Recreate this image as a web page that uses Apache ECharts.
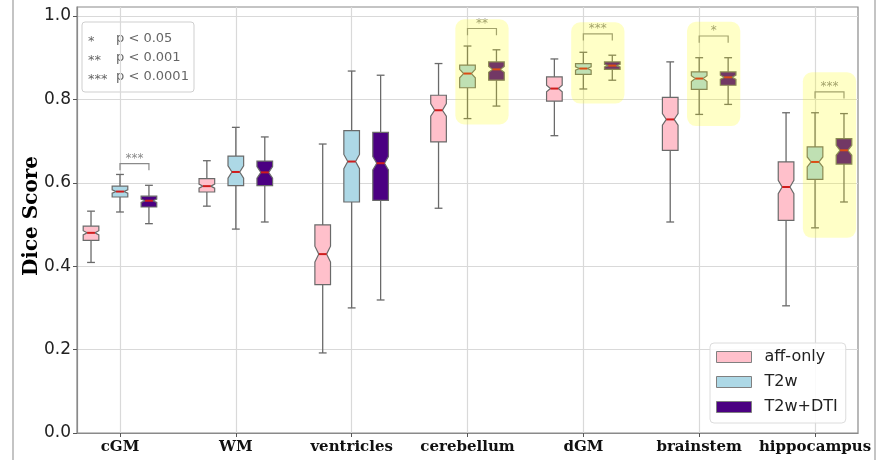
<!DOCTYPE html>
<html><head><meta charset="utf-8">
<script src="https://cdn.jsdelivr.net/npm/echarts@6/dist/echarts.min.js"></script>
<style>html,body{margin:0;padding:0;background:#fff}#c{width:877px;height:460px}</style>
</head><body><div id="c"></div>
<script>
// ---------------- data ----------------
const categories = ['cGM', 'WM', 'ventricles', 'cerebellum', 'dGM', 'brainstem', 'hippocampus'];
const seriesNames = ['aff-only', 'T2w', 'T2w+DTI'];
// each row: [lower whisker, Q1, median, Q3, upper whisker]
const affOnlyStats = [
  [0.409, 0.462, 0.480, 0.496, 0.532],
  [0.544, 0.578, 0.592, 0.610, 0.653],
  [0.192, 0.356, 0.429, 0.499, 0.693],
  [0.539, 0.698, 0.774, 0.810, 0.886],
  [0.713, 0.796, 0.826, 0.854, 0.897],
  [0.506, 0.678, 0.752, 0.805, 0.890],
  [0.305, 0.510, 0.590, 0.650, 0.768]
];
const affOnlyNotch = [[0.475, 0.485], [0.587, 0.597], [0.410, 0.448], [0.760, 0.790], [0.818, 0.834], [0.738, 0.766], [0.574, 0.606]];
const t2wStats = [
  [0.530, 0.566, 0.579, 0.592, 0.620],
  [0.489, 0.593, 0.626, 0.664, 0.733],
  [0.300, 0.554, 0.651, 0.725, 0.868],
  [0.754, 0.828, 0.862, 0.882, 0.928],
  [0.825, 0.860, 0.874, 0.886, 0.913],
  [0.764, 0.824, 0.850, 0.866, 0.900],
  [0.492, 0.608, 0.650, 0.686, 0.768]
];
const t2wNotch = [[0.575, 0.583], [0.611, 0.641], [0.634, 0.668], [0.852, 0.872], [0.870, 0.878], [0.843, 0.857], [0.638, 0.662]];
const t2wDtiStats = [
  [0.502, 0.542, 0.557, 0.568, 0.594],
  [0.506, 0.593, 0.625, 0.652, 0.710],
  [0.319, 0.558, 0.647, 0.721, 0.858],
  [0.784, 0.846, 0.872, 0.890, 0.919],
  [0.846, 0.872, 0.881, 0.890, 0.906],
  [0.788, 0.834, 0.853, 0.866, 0.900],
  [0.554, 0.645, 0.678, 0.706, 0.766]
];
const t2wDtiNotch = [[0.553, 0.561], [0.611, 0.639], [0.631, 0.663], [0.865, 0.879], [0.878, 0.884], [0.848, 0.858], [0.666, 0.690]];
const yTicks = [0.0, 0.2, 0.4, 0.6, 0.8, 1.0];
// significance brackets (T2w vs T2w+DTI)
const sigCategories = [0, 3, 4, 5, 6];
const sigLevels = [0.646, 0.970, 0.957, 0.952, 0.818];
const sigLabels = ['***', '**', '***', '*', '***'];
// highlighted regions (value range)
const highlightCategories = [3, 4, 5, 6];
const highlightLow = [0.740, 0.790, 0.736, 0.468];
const highlightHigh = [0.992, 0.985, 0.986, 0.865];
const pLegendStars = ['*', '**', '***'];
const pLegendTexts = ['p < 0.05', 'p < 0.001', 'p < 0.0001'];

// ---------------- style ----------------
const COLORS = ['#ffc0cb', '#add8e6', '#4b0082'];
const OFFSETS = [-0.25, 0, 0.25];
const BOX_WIDTH = 0.135;
const EDGE = '#6a6a6a';
const MEDIAN = '#d01c1c';
const HL_PAD = 0.105;
const BRACKET_DROP = 0.016;

function buildData(stats, notch) {
  return stats.map((s, i) => [i, s[0], s[1], s[2], s[3], s[4], notch[i][0], notch[i][1]]);
}

function boxRenderer(offset, fill) {
  return function (params, api) {
    const xv = api.value(0) + offset;
    const P = v => api.coord([xv, v]);
    const cx = P(api.value(3))[0];
    const hw = api.size([BOX_WIDTH, 0])[0] / 2;
    const y = k => P(api.value(k))[1];
    const yLow = y(1), yQ1 = y(2), yMed = y(3), yQ3 = y(4), yHigh = y(5), yCiLo = y(6), yCiHi = y(7);
    const nw = hw * 0.5, cw = hw * 0.5;
    const edge = { stroke: EDGE, lineWidth: 1.3 };
    const pts = [
      [cx - hw, yQ1], [cx + hw, yQ1], [cx + hw, yCiLo], [cx + nw, yMed], [cx + hw, yCiHi],
      [cx + hw, yQ3], [cx - hw, yQ3], [cx - hw, yCiHi], [cx - nw, yMed], [cx - hw, yCiLo]
    ];
    return {
      type: 'group', children: [
        { type: 'line', shape: { x1: cx, y1: yQ1, x2: cx, y2: yLow }, style: edge },
        { type: 'line', shape: { x1: cx, y1: yQ3, x2: cx, y2: yHigh }, style: edge },
        { type: 'line', shape: { x1: cx - cw, y1: yLow, x2: cx + cw, y2: yLow }, style: edge },
        { type: 'line', shape: { x1: cx - cw, y1: yHigh, x2: cx + cw, y2: yHigh }, style: edge },
        { type: 'polygon', shape: { points: pts }, style: { fill: fill, stroke: EDGE, lineWidth: 1.2 } },
        { type: 'line', shape: { x1: cx - nw, y1: yMed, x2: cx + nw, y2: yMed }, style: { stroke: MEDIAN, lineWidth: 2 } }
      ]
    };
  };
}

const allStats = [affOnlyStats, t2wStats, t2wDtiStats];
const allNotch = [affOnlyNotch, t2wNotch, t2wDtiNotch];
const BOX_DIMS = ['pos', 'low', 'q1', 'med', 'q3', 'high', 'ciLo', 'ciHi'];

const boxSeries = seriesNames.map((name, k) => ({
  name: name,
  type: 'custom',
  z: 2,
  silent: true,
  itemStyle: { color: COLORS[k] },
  dimensions: BOX_DIMS,
  encode: { x: 0, y: [1, 2, 3, 4, 5, 6, 7] },
  data: buildData(allStats[k], allNotch[k]),
  renderItem: boxRenderer(OFFSETS[k], COLORS[k])
}));

const bracketSeries = {
  name: 'sig',
  type: 'custom',
  z: 3,
  silent: true,
  dimensions: ['pos', 'level'],
  encode: { x: 0, y: 1 },
  data: sigCategories.map((c, i) => [c, sigLevels[i]]),
  renderItem: function (params, api) {
    const i = api.value(0), lvl = api.value(1);
    const a = api.coord([i + OFFSETS[1], lvl]);
    const b = api.coord([i + OFFSETS[2], lvl]);
    const drop = Math.abs(api.size([0, BRACKET_DROP])[1]);
    return {
      type: 'group', children: [
        { type: 'polyline', shape: { points: [[a[0], a[1] + drop], [a[0], a[1]], [b[0], b[1]], [b[0], b[1] + drop]] },
          style: { stroke: '#8a8a8a', lineWidth: 1.2, fill: null } },
        { type: 'text', style: { text: sigLabels[params.dataIndex], x: (a[0] + b[0]) / 2, y: a[1] - 5,
          align: 'center', verticalAlign: 'middle', fill: '#8a8a8a', fontSize: 12, fontFamily: 'DejaVu Sans' } }
      ]
    };
  }
};

const highlightSeries = {
  name: 'highlight',
  type: 'custom',
  z: 5,
  silent: true,
  dimensions: ['pos', 'low', 'high'],
  encode: { x: 0, y: [1, 2] },
  data: highlightCategories.map((c, i) => [c, highlightLow[i], highlightHigh[i]]),
  renderItem: function (params, api) {
    const i = api.value(0);
    const tl = api.coord([i + OFFSETS[1] - HL_PAD, api.value(2)]);
    const br = api.coord([i + OFFSETS[2] + HL_PAD, api.value(1)]);
    return { type: 'rect', shape: { x: tl[0], y: tl[1], width: br[0] - tl[0], height: br[1] - tl[1], r: 9 },
      style: { fill: 'rgba(255,255,0,0.22)' } };
  }
};

const catTicks = categories.map((c, i) => i);

const pLegendChildren = [
  { type: 'rect', shape: { x: 82, y: 22, width: 112, height: 70, r: 3 }, style: { fill: '#fff', stroke: '#cfcfcf', lineWidth: 1 } }
];
pLegendStars.forEach((s, i) => {
  pLegendChildren.push({ type: 'text', style: { text: s, x: 88, y: 42 + i * 19, verticalAlign: 'middle', fill: '#666', fontSize: 13, fontFamily: 'DejaVu Sans' } });
  pLegendChildren.push({ type: 'text', style: { text: pLegendTexts[i], x: 116, y: 39 + i * 19, verticalAlign: 'middle', fill: '#666', fontSize: 13, fontFamily: 'DejaVu Sans' } });
});

const option = {
  animation: false,
  backgroundColor: '#ffffff',
  grid: { left: 77, right: 19, top: 7, bottom: 27, show: true, borderColor: '#8a8a8a', borderWidth: 1.2, outerBoundsMode: 'none', containLabel: false },
  xAxis: {
    type: 'value', min: -0.371, max: 6.371,
    axisLine: { show: true, onZero: false, lineStyle: { color: '#8a8a8a', width: 1.2 } },
    axisTick: { show: true, length: 4, customValues: catTicks, lineStyle: { color: '#555' } },
    axisLabel: { customValues: catTicks, margin: 7, formatter: v => categories[Math.round(v)],
      fontFamily: 'DejaVu Serif', fontWeight: 'bold', fontSize: 15, color: '#111' },
    splitLine: { show: true, lineStyle: { color: '#d9d9d9', width: 1.2 } }
  },
  yAxis: {
    type: 'value', min: 0, max: 1.0216,
    name: 'Dice Score', nameLocation: 'middle', nameRotate: 90, nameGap: 35, nameMoveOverlap: false,
    nameTextStyle: { fontFamily: 'DejaVu Serif', fontWeight: 'bold', fontSize: 20, color: '#000', padding: [0, 0, 0, 8] },
    axisLine: { show: true, onZero: false, lineStyle: { color: '#8a8a8a', width: 1.2 } },
    axisTick: { show: true, length: 4, customValues: yTicks, lineStyle: { color: '#555' } },
    axisLabel: { customValues: yTicks, margin: 6, formatter: v => v.toFixed(1),
      fontFamily: 'DejaVu Sans', fontSize: 17, color: '#222' },
    splitLine: { show: true, lineStyle: { color: '#d9d9d9', width: 1.2 } }
  },
  legend: {
    orient: 'vertical', left: 710, top: 343,
    data: seriesNames.map((n, k) => ({ name: n, icon: 'rect', itemStyle: { color: COLORS[k], borderColor: '#808080', borderWidth: 1 } })),
    itemWidth: 35, itemHeight: 11, itemGap: 9,
    padding: [6, 8, 8, 6],
    backgroundColor: 'rgba(255,255,255,0.85)', borderColor: '#dcdcdc', borderWidth: 1, borderRadius: 4,
    textStyle: { fontFamily: 'DejaVu Sans', fontSize: 16, color: '#222', padding: [0, 0, 0, 8] },
    selectedMode: false
  },
  graphic: [
    { type: 'line', shape: { x1: 13, y1: 0, x2: 13, y2: 460 }, style: { stroke: '#b0b0b0', lineWidth: 1.5 } },
    { type: 'line', shape: { x1: 875, y1: 0, x2: 875, y2: 460 }, style: { stroke: '#b0b0b0', lineWidth: 1.5 } },
    { type: 'group', children: pLegendChildren }
  ],
  series: [...boxSeries, bracketSeries, highlightSeries]
};

const chart = echarts.init(document.getElementById('c'), null, { renderer: 'canvas' });
chart.setOption(option);
</script>
</body></html>
